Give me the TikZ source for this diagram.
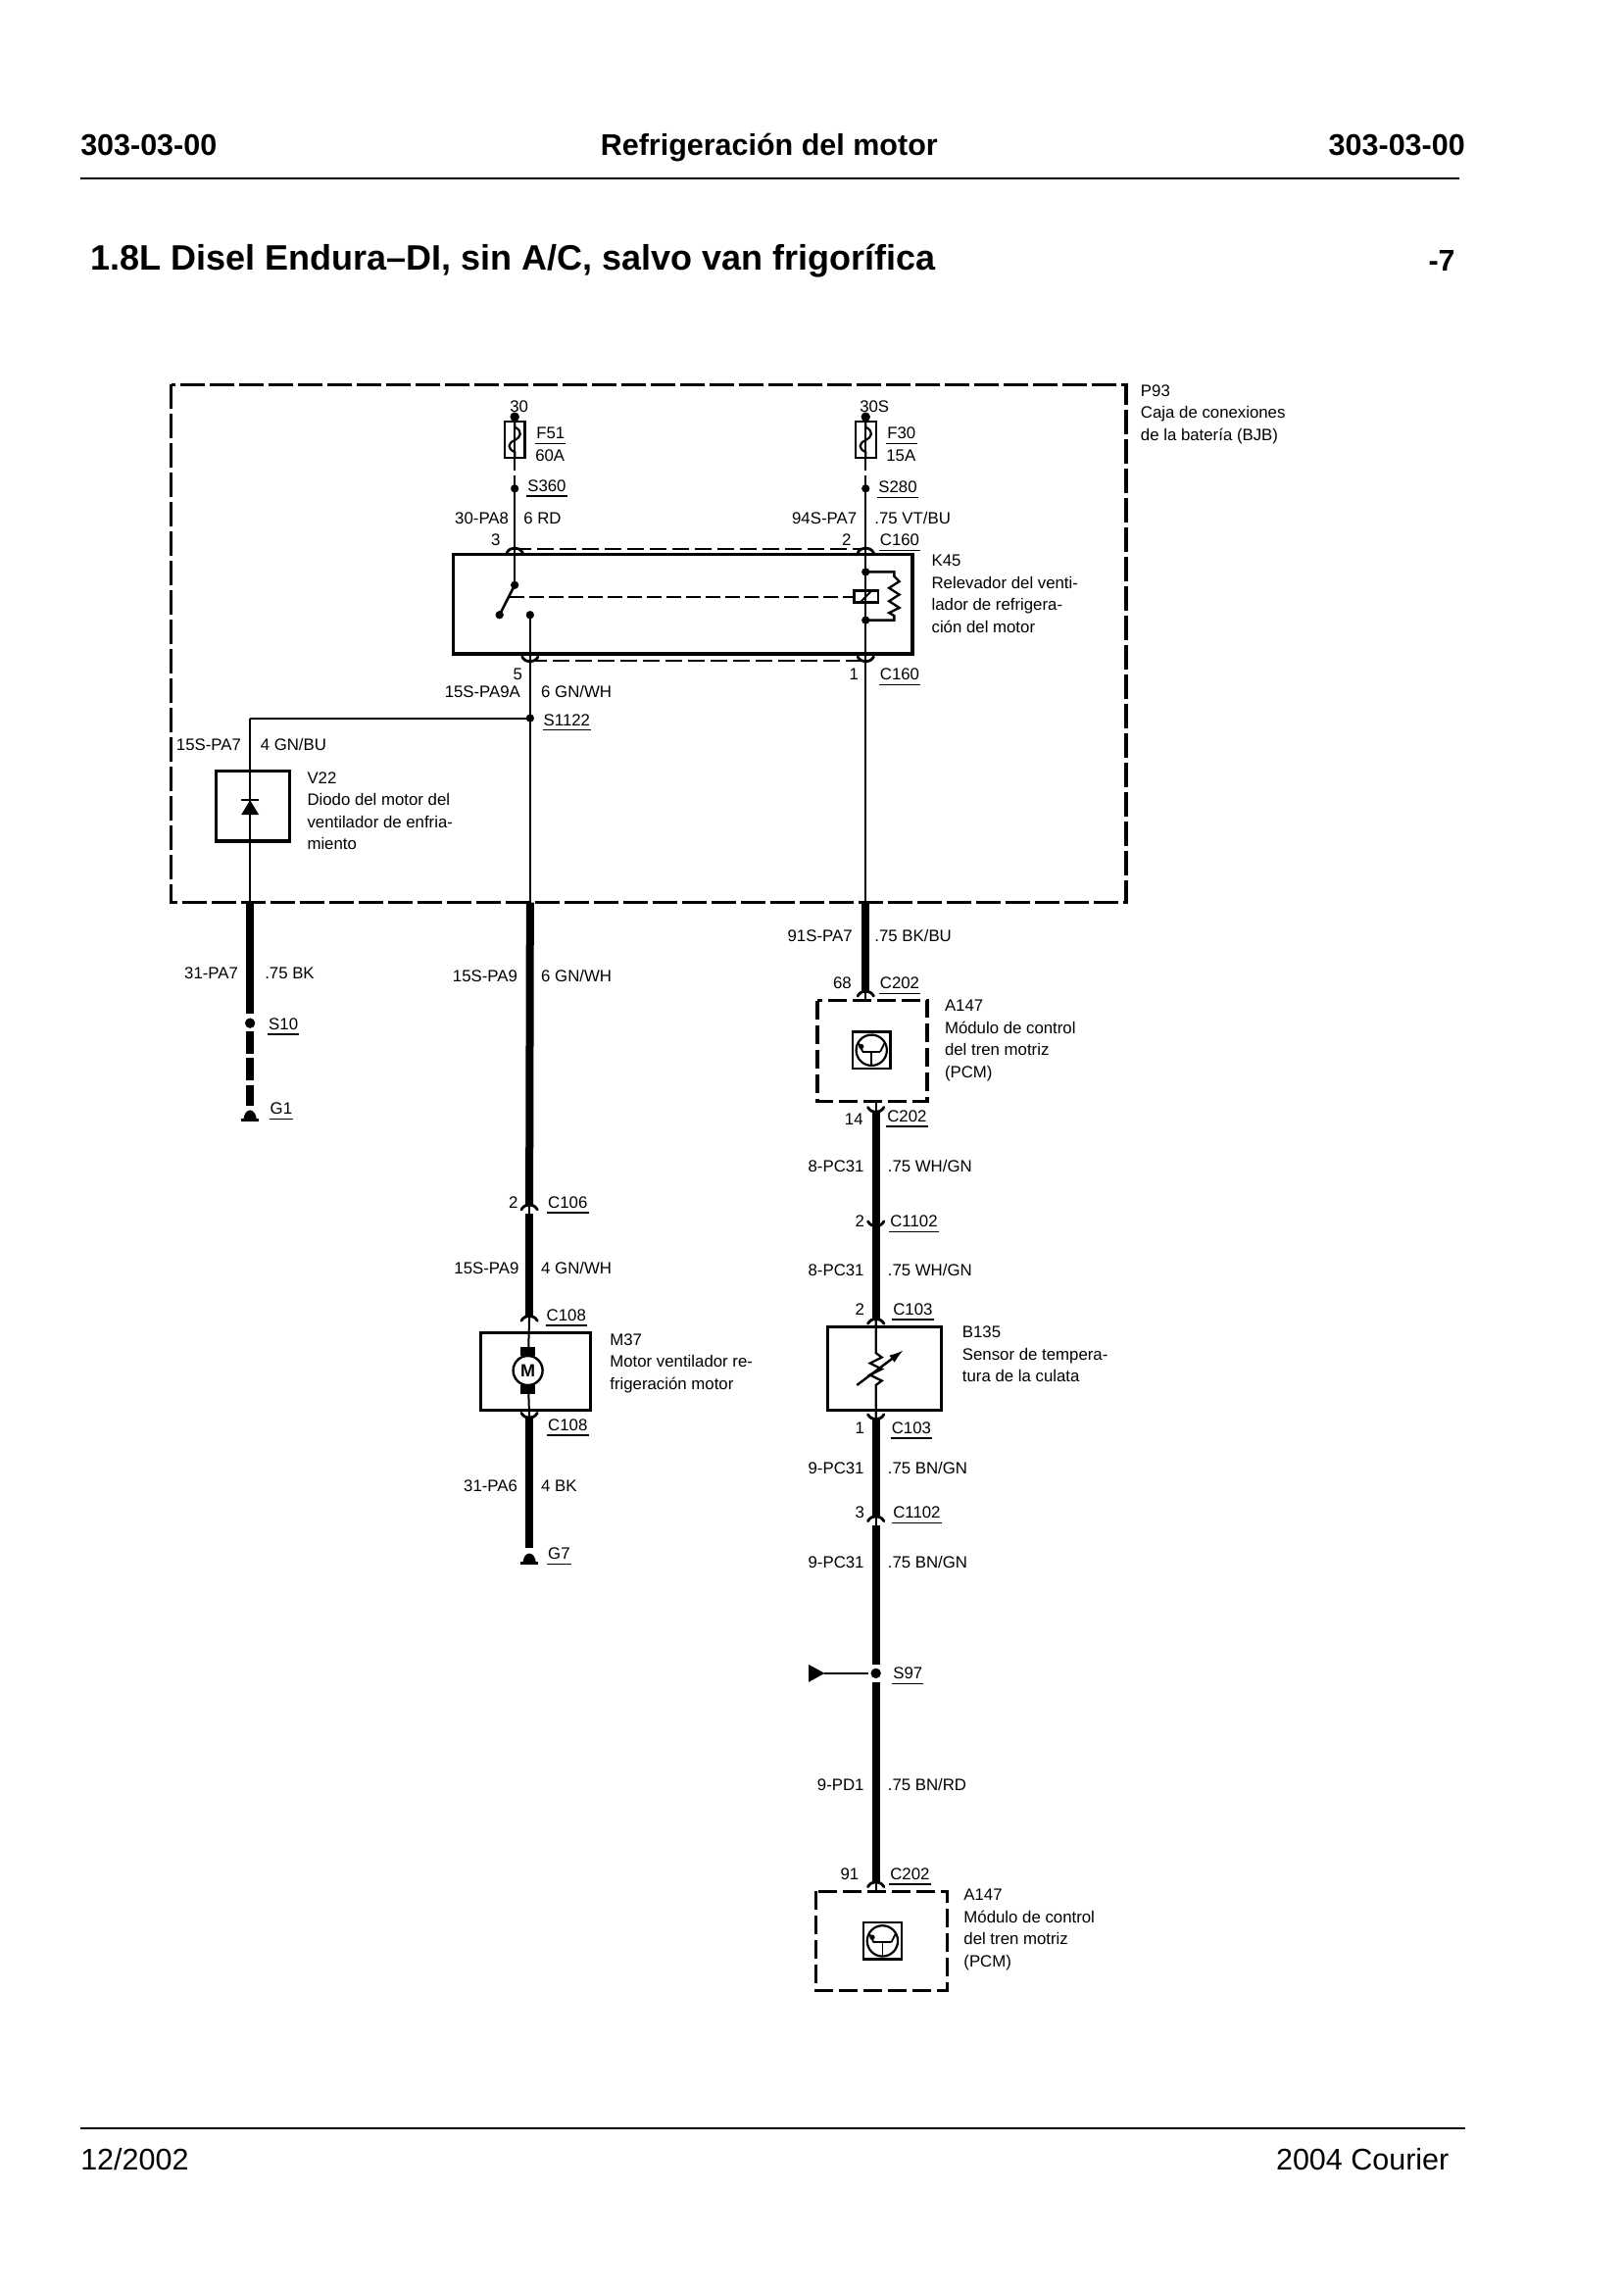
\documentclass[tikz,border=0pt]{standalone}
\usepackage{fontspec}
\usetikzlibrary{arrows.meta}
\setmainfont{Liberation Sans}
\newcommand{\smallfont}{\fontsize{16.8}{22.4}\selectfont}
\tikzset{
  lbl/.style={font=\smallfont,inner sep=0pt,text height=12pt,text depth=0pt},
  desc/.style={font=\smallfont,inner sep=0pt,align=left,anchor=north west},
  head/.style={font=\fontsize{30.5}{36}\selectfont\bfseries,inner sep=0pt,text height=22pt,text depth=0pt},
  foot/.style={font=\fontsize{30.5}{36}\selectfont,inner sep=0pt,text height=22pt,text depth=0pt},
  thinwire/.style={line width=2pt},
  bigwire/.style={line width=8pt},
  boxline/.style={line width=3.2pt},
  ulline/.style={line width=1.3pt},
  connarc/.style={line width=2.8pt,line cap=round},
  linkdash/.style={line width=2pt,dash pattern=on 17pt off 6pt},
  modbox/.style={line width=3.2pt,dash pattern=on 19pt off 6pt},
}
% etiqueta subrayada
\newcommand{\ulab}[3]{
  \node[lbl,anchor=west,inner xsep=1pt,inner ysep=4.5pt] (#1) at #2 {#3};
  \draw[ulline] (#1.south west) -- (#1.south east);
}
\newcommand{\connup}[1]{\draw[connarc,shift={(#1)}] (-5.5,3) .. controls (-3,-1.5) and (3,-1.5) .. (5.5,3);}
\newcommand{\conndown}[1]{\draw[connarc,shift={(#1)}] (-5.5,-3) .. controls (-3,1.5) and (3,1.5) .. (5.5,-3);}
\newcommand{\dotat}[1]{\filldraw (#1) circle (2.6);}
% fusible, x del cable
\newcommand{\fuseat}[1]{
  \draw[boxline,line width=2.4pt] (#1-7,288) rectangle (#1+7,313);
  \draw[line width=2.2pt] (#1,288) -- (#1,292) .. controls (#1+6,295) and (#1+4,299) .. (#1,301)
    .. controls (#1-5,303) and (#1-5,307) .. (#1,309) -- (#1,313);
}
% simbolo de modulo, centro
\newcommand{\pcmicon}[1]{
  \begin{scope}[shift={(#1)}]
    \draw[line width=2.4pt] (-13,-12.5) rectangle (13,12.5);
    \draw[line width=2.2pt] (0,0) circle (10.5);
    \draw[line width=1.6pt] (0,1) -- (0,10);
    \draw[line width=2.2pt] (-6,1) -- (6,1);
    \draw[line width=1.8pt] (-6,1) -- (-9,-5);
    \draw[line width=1.8pt] (6,1) -- (9,-5);
    \filldraw (-7,-2.5) circle (1.6);
  \end{scope}
}
% masa
\newcommand{\groundat}[1]{
  \begin{scope}[shift={(#1)}]
    \fill (-4.5,0) arc (180:360:4.5 and 7) -- cycle;
    \draw[line width=3pt] (-6,0) -- (6,0);
  \end{scope}
}
\begin{document}
\begin{tikzpicture}[x=1.492pt,y=-1.492pt]
  \useasboundingbox (0,0) rectangle (1110,1567.7);

  %cabecera
  \node[head,anchor=west] (hl) at (55,99) {303-03-00};
  \node[head] (hc) at (526,99) {Refrigeración del motor};
  \node[head,anchor=east] (hr) at (1002,99) {303-03-00};
  \coordinate (HA) at (55,122);
  \coordinate (HB) at (998,122);
  \draw[line width=2pt] (HA) -- (HB);
  \node[head,font=\fontsize{36}{40}\selectfont\bfseries,text height=25pt,anchor=west] (title) at (62,176) {1.8L Disel Endura–DI, sin A/C, salvo van frigorífica};
  \node[head] (pag) at (986,178) {-7};

  %pie
  \coordinate (PA) at (55,1455);
  \coordinate (PB) at (1002,1455);
  \draw[line width=2pt] (PA) -- (PB);
  \node[foot,anchor=west] (fl) at (55,1476.5) {12/2002};
  \node[foot,anchor=east] (fr) at (991,1476.5) {2004 Courier};

  %caja P93
  \coordinate (BJa) at (117,263);
  \coordinate (BJb) at (770,617);
  \draw[line width=3.5pt,dash pattern=on 25pt off 5pt] (BJa) rectangle (BJb);
  \node[desc] (p93) at (780,263) {P93\\Caja de conexiones\\de la batería (BJB)};

  %puntos de la parte alta
  \coordinate (F51t) at (352,285);
  \coordinate (F51b) at (352,313);
  \coordinate (F51c) at (352,322);
  \coordinate (S360c) at (352,325);
  \coordinate (S360) at (352,334);
  \coordinate (K3) at (352,375);
  \coordinate (F30t) at (592,285);
  \coordinate (F30b) at (592,313);
  \coordinate (F30c) at (592,322);
  \coordinate (S280c) at (592,325);
  \coordinate (S280) at (592,334);
  \coordinate (K2) at (592,375);
  \coordinate (K5) at (362.5,452);
  \coordinate (K1) at (592,452);
  \coordinate (S1122) at (362.5,491);
  \coordinate (V22t) at (171,491);
  \coordinate (A) at (171,617);
  \coordinate (B) at (362.5,617);
  \coordinate (D) at (592,617);

  \node[lbl] (t30) at (355,278) {30};
  \node[lbl] (t30s) at (598,278) {30S};
  \fuseat{352}
  \fuseat{592}
  \draw[thinwire] (F51t) -- (F51b) -- (F51c);
  \draw[thinwire] (S360c) -- (K3);
  \draw[thinwire] (F30t) -- (F30b) -- (F30c);
  \draw[thinwire] (S280c) -- (K2);
  \filldraw (F51t) circle (3);
  \filldraw (F30t) circle (3);
  \dotat{S360}
  \dotat{S280}
  \ulab{f51}{(366,296)}{F51}
  \node[lbl,anchor=west] (a60) at (366,311) {60A};
  \ulab{f30}{(606,296)}{F30}
  \node[lbl,anchor=west] (a15) at (606,311) {15A};
  \ulab{s360}{(360,332)}{S360}
  \ulab{s280}{(600,333)}{S280}
  \node[lbl,anchor=east] (w30) at (348,354) {30-PA8};
  \node[lbl,anchor=west] (g30) at (358,354) {6 RD};
  \node[lbl,anchor=east] (w94) at (586,354) {94S-PA7};
  \node[lbl,anchor=west] (g94) at (598,354) {.75 VT/BU};
  \node[lbl] (n3) at (339,369) {3};
  \node[lbl] (n2) at (579,369) {2};
  \ulab{c160a}{(601,369)}{C160}

  %relevador K45
  \coordinate (Ra) at (310,379);
  \coordinate (Rb) at (624,447);
  \draw[boxline] (Ra) rectangle (Rb);
  \draw[linkdash] (K3) -- (K2);
  \draw[linkdash] (K5) -- (K1);
  \connup{K3}
  \connup{K2}
  \conndown{K5}
  \conndown{K1}
  \coordinate (SWa) at (352,400);
  \coordinate (SWb) at (341.6,420.4);
  \coordinate (SWc) at (362.5,420.4);
  \coordinate (SWd) at (348.5,408);
  \coordinate (CLa) at (584,408);
  \coordinate (CLt) at (592,391);
  \coordinate (CLb) at (592,424);
  \coordinate (CLr) at (611.5,391);
  \coordinate (CLs) at (611.5,424);
  \draw[thinwire] (K3) -- (SWa);
  \draw[line width=2.6pt] (SWa) -- (SWb);
  \draw[thinwire] (SWc) -- (K5);
  \draw[thinwire] (K2) -- (K1);
  \draw[linkdash,dash pattern=on 15pt off 5pt] (SWd) -- (CLa);
  \dotat{SWa}
  \dotat{SWb}
  \dotat{SWc}
  \dotat{CLt}
  \dotat{CLb}
  \draw[line width=2.6pt] (584,404) rectangle (600.5,412);
  \draw[line width=2pt] (588,412) -- (596,404);
  \draw[line width=2.3pt] (CLt) -- (CLr) -- (611.5,394) -- (615,397.5) -- (608,402) -- (615,406.5) -- (608,411) -- (615,415.5) -- (608,419) -- (611.5,421) -- (CLs) -- (CLb);
  \node[desc] (k45) at (637,379.5) {K45\\Relevador del venti-\\lador de refrigera-\\ción del motor};

  \node[lbl] (n5) at (354,461) {5};
  \node[lbl] (n1) at (584,461) {1};
  \ulab{c160b}{(601,461)}{C160}
  \node[lbl,anchor=east] (w15a) at (356,473) {15S-PA9A};
  \node[lbl,anchor=west] (g15a) at (370,473) {6 GN/WH};
  \ulab{s1122}{(371,492)}{S1122}

  %diodo V22
  \draw[thinwire] (K5) -- (B);
  \draw[thinwire] (V22t) -- (S1122);
  \draw[thinwire] (V22t) -- (A);
  \draw[thinwire] (K1) -- (D);
  \dotat{S1122}
  \node[lbl,anchor=east] (w15p) at (165,509) {15S-PA7};
  \node[lbl,anchor=west] (g15p) at (178,509) {4 GN/BU};
  \coordinate (Va) at (148,527);
  \coordinate (Vb) at (198,575);
  \draw[boxline] (Va) rectangle (Vb);
  \fill (165,557) -- (177,557) -- (171,547) -- cycle;
  \draw[line width=2.6pt] (165,547) -- (177,547);
  \node[desc] (v22) at (210,527.7) {V22\\Diodo del motor del\\ventilador de enfria-\\miento};

  %masa G1
  \coordinate (S10a) at (171,693);
  \coordinate (S10) at (171,699.5);
  \coordinate (S10b) at (171,705);
  \coordinate (G1a) at (171,756);
  \coordinate (G1) at (171,766);
  \draw[bigwire] (A) -- (S10a);
  \draw[bigwire,dash pattern=on 23pt off 4.5pt] (S10b) -- (G1a);
  \filldraw (S10) circle (3.3);
  \groundat{G1}
  \node[lbl,anchor=east] (w31) at (163,665) {31-PA7};
  \node[lbl,anchor=west] (g31) at (181,665) {.75 BK};
  \ulab{s10}{(183,700)}{S10}
  \ulab{g1}{(184,758)}{G1}

  %rama del motor M37
  \coordinate (C106) at (362,824);
  \coordinate (C106b) at (362,830);
  \coordinate (C108a) at (362,900);
  \coordinate (Ma) at (329,911);
  \coordinate (Mb) at (404,964);
  \coordinate (Mc) at (361,937);
  \coordinate (C108b) at (362,969);
  \coordinate (G7a) at (362,1058);
  \coordinate (G7) at (362,1069);
  \draw[bigwire] (B) -- (C106);
  \draw[thinwire] (C106) -- (C106b);
  \draw[bigwire] (C106b) -- (C108a);
  \connup{C106}
  \connup{C108a}
  \draw[boxline] (Ma) rectangle (Mb);
  \draw[thinwire] (C108a) -- (Mc);
  \draw[thinwire] (Mc) -- (C108b);
  \fill (356,921) rectangle (366,927);
  \fill (356,947) rectangle (366,953);
  \node[draw,circle,fill=white,line width=2.4pt,inner sep=0pt,minimum size=30pt,font=\fontsize{18}{18}\selectfont\bfseries] (motor) at (Mc) {M};
  \draw[bigwire] (C108b) -- (G7a);
  \conndown{C108b}
  \groundat{G7}
  \node[lbl,anchor=east] (w15b) at (354,667) {15S-PA9};
  \node[lbl,anchor=west] (g15b) at (370,667) {6 GN/WH};
  \node[lbl] (n2m) at (351,822) {2};
  \ulab{c106}{(374,822)}{C106}
  \node[lbl,anchor=east] (w15c) at (355,867) {15S-PA9};
  \node[lbl,anchor=west] (g15c) at (370,867) {4 GN/WH};
  \ulab{c108a}{(373,899)}{C108}
  \node[desc] (m37) at (417,911.7) {M37\\Motor ventilador re-\\frigeración motor};
  \ulab{c108b}{(374,974)}{C108}
  \node[lbl,anchor=east] (w31b) at (354,1016) {31-PA6};
  \node[lbl,anchor=west] (g31b) at (370,1016) {4 BK};
  \ulab{g7}{(374,1062)}{G7}

  %rama del modulo A147
  \coordinate (C202a) at (592,678);
  \coordinate (Aa) at (559,684);
  \coordinate (Ab) at (634,753);
  \coordinate (Ac) at (592,684);
  \coordinate (Ad) at (599,753);
  \coordinate (C202b) at (599,760);
  \draw[bigwire] (D) -- (C202a);
  \draw[thinwire] (C202a) -- (Ac);
  \connup{C202a}
  \draw[modbox] (Aa) rectangle (Ab);
  \pcmicon{596,718}
  \node[lbl,anchor=east] (w91) at (583,640) {91S-PA7};
  \node[lbl,anchor=west] (g91) at (598,640) {.75 BK/BU};
  \node[lbl] (n68) at (576,672) {68};
  \ulab{c202a}{(601,672)}{C202}
  \node[desc] (a147) at (646,683.7) {A147\\Módulo de control\\del tren motriz\\(PCM)};

  %sensor B135
  \coordinate (C1102a) at (599,838);
  \coordinate (C103a) at (599,902);
  \coordinate (Sa) at (566,907);
  \coordinate (Sb) at (644,964);
  \coordinate (Sc) at (599,964);
  \coordinate (Sd) at (599,907);
  \coordinate (C103b) at (599,970);
  \coordinate (C1102b) at (599,1037);
  \coordinate (C1102c) at (599,1043);
  \coordinate (S97a) at (599,1138);
  \coordinate (S97) at (599,1144);
  \coordinate (S97b) at (599,1150);
  \coordinate (Cc) at (599,1287);
  \coordinate (Ce) at (599,1293);
  \draw[thinwire] (Ad) -- (C202b);
  \draw[bigwire] (C202b) -- (C1102a) -- (C103a);
  \conndown{C202b}
  \conndown{C1102a}
  \connup{C103a}
  \draw[boxline] (Sa) rectangle (Sb);
  \draw[line width=2.3pt] (C103a) -- (Sd) -- (599,925) -- (603,928) -- (595,932) -- (603,936) -- (595,940) -- (603,944) -- (599,947) -- (Sc) -- (C103b);
  \draw[line width=2.4pt,-{Latex[length=15pt,width=9pt]}] (586,947) -- (618,923);
  \draw[bigwire] (C103b) -- (C1102b);
  \conndown{C103b}
  \connup{C1102b}
  \draw[thinwire] (C1102b) -- (C1102c);
  \draw[bigwire] (C1102c) -- (S97a);
  \draw[bigwire] (S97b) -- (Cc);
  \connup{Cc}
  \draw[thinwire] (Cc) -- (Ce);
  \filldraw (S97) circle (3.3);
  \coordinate (Ta) at (564,1144);
  \coordinate (Tb) at (594,1144);
  \fill (553,1138) -- (Ta) -- (553,1150) -- cycle;
  \draw[thinwire] (Ta) -- (Tb);
  \node[lbl] (n14) at (584,765) {14};
  \ulab{c202b}{(606,763)}{C202}
  \node[lbl,anchor=east] (w8a) at (591,797) {8-PC31};
  \node[lbl,anchor=west] (g8a) at (607,797) {.75 WH/GN};
  \node[lbl] (n2c) at (588,835) {2};
  \ulab{c1102a}{(608,835)}{C1102}
  \node[lbl,anchor=east] (w8b) at (591,868) {8-PC31};
  \node[lbl,anchor=west] (g8b) at (607,868) {.75 WH/GN};
  \node[lbl] (n2d) at (588,895) {2};
  \ulab{c103a}{(610,895)}{C103}
  \node[desc] (b135) at (658,906.7) {B135\\Sensor de tempera-\\tura de la culata};
  \node[lbl] (n1d) at (588,976) {1};
  \ulab{c103b}{(609,976)}{C103}
  \node[lbl,anchor=east] (w9a) at (591,1004) {9-PC31};
  \node[lbl,anchor=west] (g9a) at (607,1004) {.75 BN/GN};
  \node[lbl] (n3d) at (588,1034) {3};
  \ulab{c1102b}{(610,1034)}{C1102}
  \node[lbl,anchor=east] (w9b) at (591,1068) {9-PC31};
  \node[lbl,anchor=west] (g9b) at (607,1068) {.75 BN/GN};
  \ulab{s97}{(610,1144)}{S97}
  \node[lbl,anchor=east] (w9c) at (591,1220) {9-PD1};
  \node[lbl,anchor=west] (g9c) at (607,1220) {.75 BN/RD};

  %segundo modulo A147
  \coordinate (Ea) at (558,1293);
  \coordinate (Eb) at (648,1361);
  \draw[modbox] (Ea) rectangle (Eb);
  \pcmicon{603.5,1327}
  \node[lbl] (n91) at (581,1281) {91};
  \ulab{c202c}{(608,1281)}{C202}
  \node[desc] (a147b) at (659,1291.7) {A147\\Módulo de control\\del tren motriz\\(PCM)};
\end{tikzpicture}
\end{document}
